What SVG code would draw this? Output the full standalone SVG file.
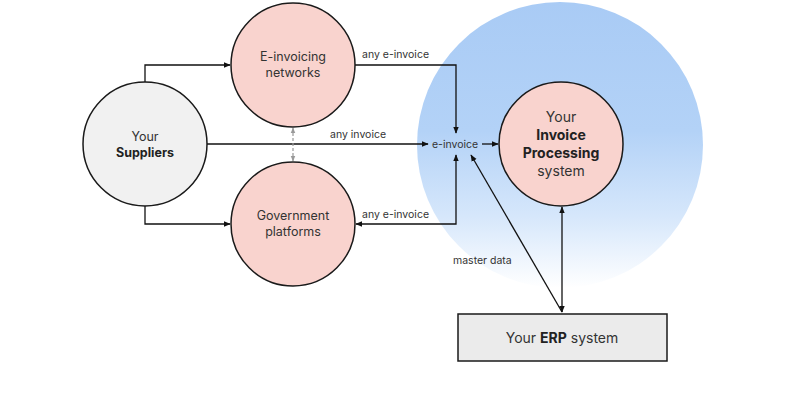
<svg xmlns="http://www.w3.org/2000/svg" width="797" height="405" viewBox="0 0 797 405">
<defs>
<linearGradient id="bg" x1="0" y1="0" x2="0" y2="1">
<stop offset="0" stop-color="#a9cbf5"/>
<stop offset="0.45" stop-color="#b3d2f7"/>
<stop offset="0.75" stop-color="#d6e7fb"/>
<stop offset="1" stop-color="#ffffff"/>
</linearGradient>
<marker id="ah" viewBox="0 0 10 10" refX="9" refY="5" markerWidth="7" markerHeight="7" orient="auto-start-reverse" markerUnits="userSpaceOnUse">
<path d="M0,1 L10,5 L0,9 z" fill="#111"/>
</marker>
<marker id="ahg" viewBox="0 0 10 10" refX="9" refY="5" markerWidth="6" markerHeight="6" orient="auto-start-reverse" markerUnits="userSpaceOnUse">
<path d="M0,1 L10,5 L0,9 z" fill="#999"/>
</marker>
<style>
.node{stroke:#1a1a1a;stroke-width:1.5}
.pink{fill:#f9d3ce}
.grey{fill:#f1f1f1}
.t{font-family:Inter,"Noto Sans",sans-serif;font-size:12.5px;fill:#333;text-anchor:middle}
.tb{font-weight:bold;fill:#222}
.big{font-size:14px}
.lbl{font-family:Inter,"Noto Sans",sans-serif;font-size:10.5px;fill:#333}
.c{fill:none;stroke:#111;stroke-width:1.3}
</style>
</defs>
<rect width="797" height="405" fill="#fff"/>
<circle id="bubble" cx="560" cy="145" r="143" fill="url(#bg)"/>
<g id="connectors">
<path class="c" d="M145,82 V65 H230" marker-end="url(#ah)"/>
<path class="c" d="M145,206 V224 H230" marker-end="url(#ah)"/>
<path class="c" d="M207,144 H428" marker-end="url(#ah)"/>
<path class="c" d="M355,65 H456 V133" marker-end="url(#ah)"/>
<path class="c" d="M356,224 H456 V155" marker-start="url(#ah)" marker-end="url(#ah)"/>
<path class="c" d="M482,144 H498" marker-end="url(#ah)"/>
<path d="M293,128 V161" fill="none" stroke="#999" stroke-width="1.2" stroke-dasharray="3,2" marker-start="url(#ahg)" marker-end="url(#ahg)"/>
<path class="c" d="M562,312 L471,155" marker-end="url(#ah)"/>
<path class="c" d="M562,312 V207" marker-start="url(#ah)" marker-end="url(#ah)"/>
<text class="lbl" x="362" y="58">any e-invoice</text>
<text class="lbl" x="330" y="138">any invoice</text>
<text class="lbl" x="362" y="218">any e-invoice</text>
<text class="lbl" x="432" y="148">e-invoice</text>
<text class="lbl" x="453" y="264">master data</text>
</g>
<g id="suppliers">
<circle class="node grey" cx="145" cy="144" r="62"/>
<text class="t" x="145" y="141">Your</text>
<text class="t tb" x="145" y="157">Suppliers</text>
</g>
<g id="einvoicing">
<circle class="node pink" cx="293" cy="65" r="62"/>
<text class="t" x="293" y="61">E-invoicing</text>
<text class="t" x="293" y="77">networks</text>
</g>
<g id="government">
<circle class="node pink" cx="293" cy="224" r="62"/>
<text class="t" x="293" y="220">Government</text>
<text class="t" x="293" y="236">platforms</text>
</g>
<g id="processing">
<circle class="node pink" cx="561" cy="144" r="62"/>
<text class="t big" x="561" y="122">Your</text>
<text class="t big tb" x="561" y="140">Invoice</text>
<text class="t big tb" x="561" y="158">Processing</text>
<text class="t big" x="561" y="176">system</text>
</g>
<g id="erp">
<rect class="node" x="458" y="314" width="209" height="47" fill="#ebebeb"/>
<text class="t big" x="562" y="343">Your <tspan class="tb">ERP</tspan> system</text>
</g>
</svg>
